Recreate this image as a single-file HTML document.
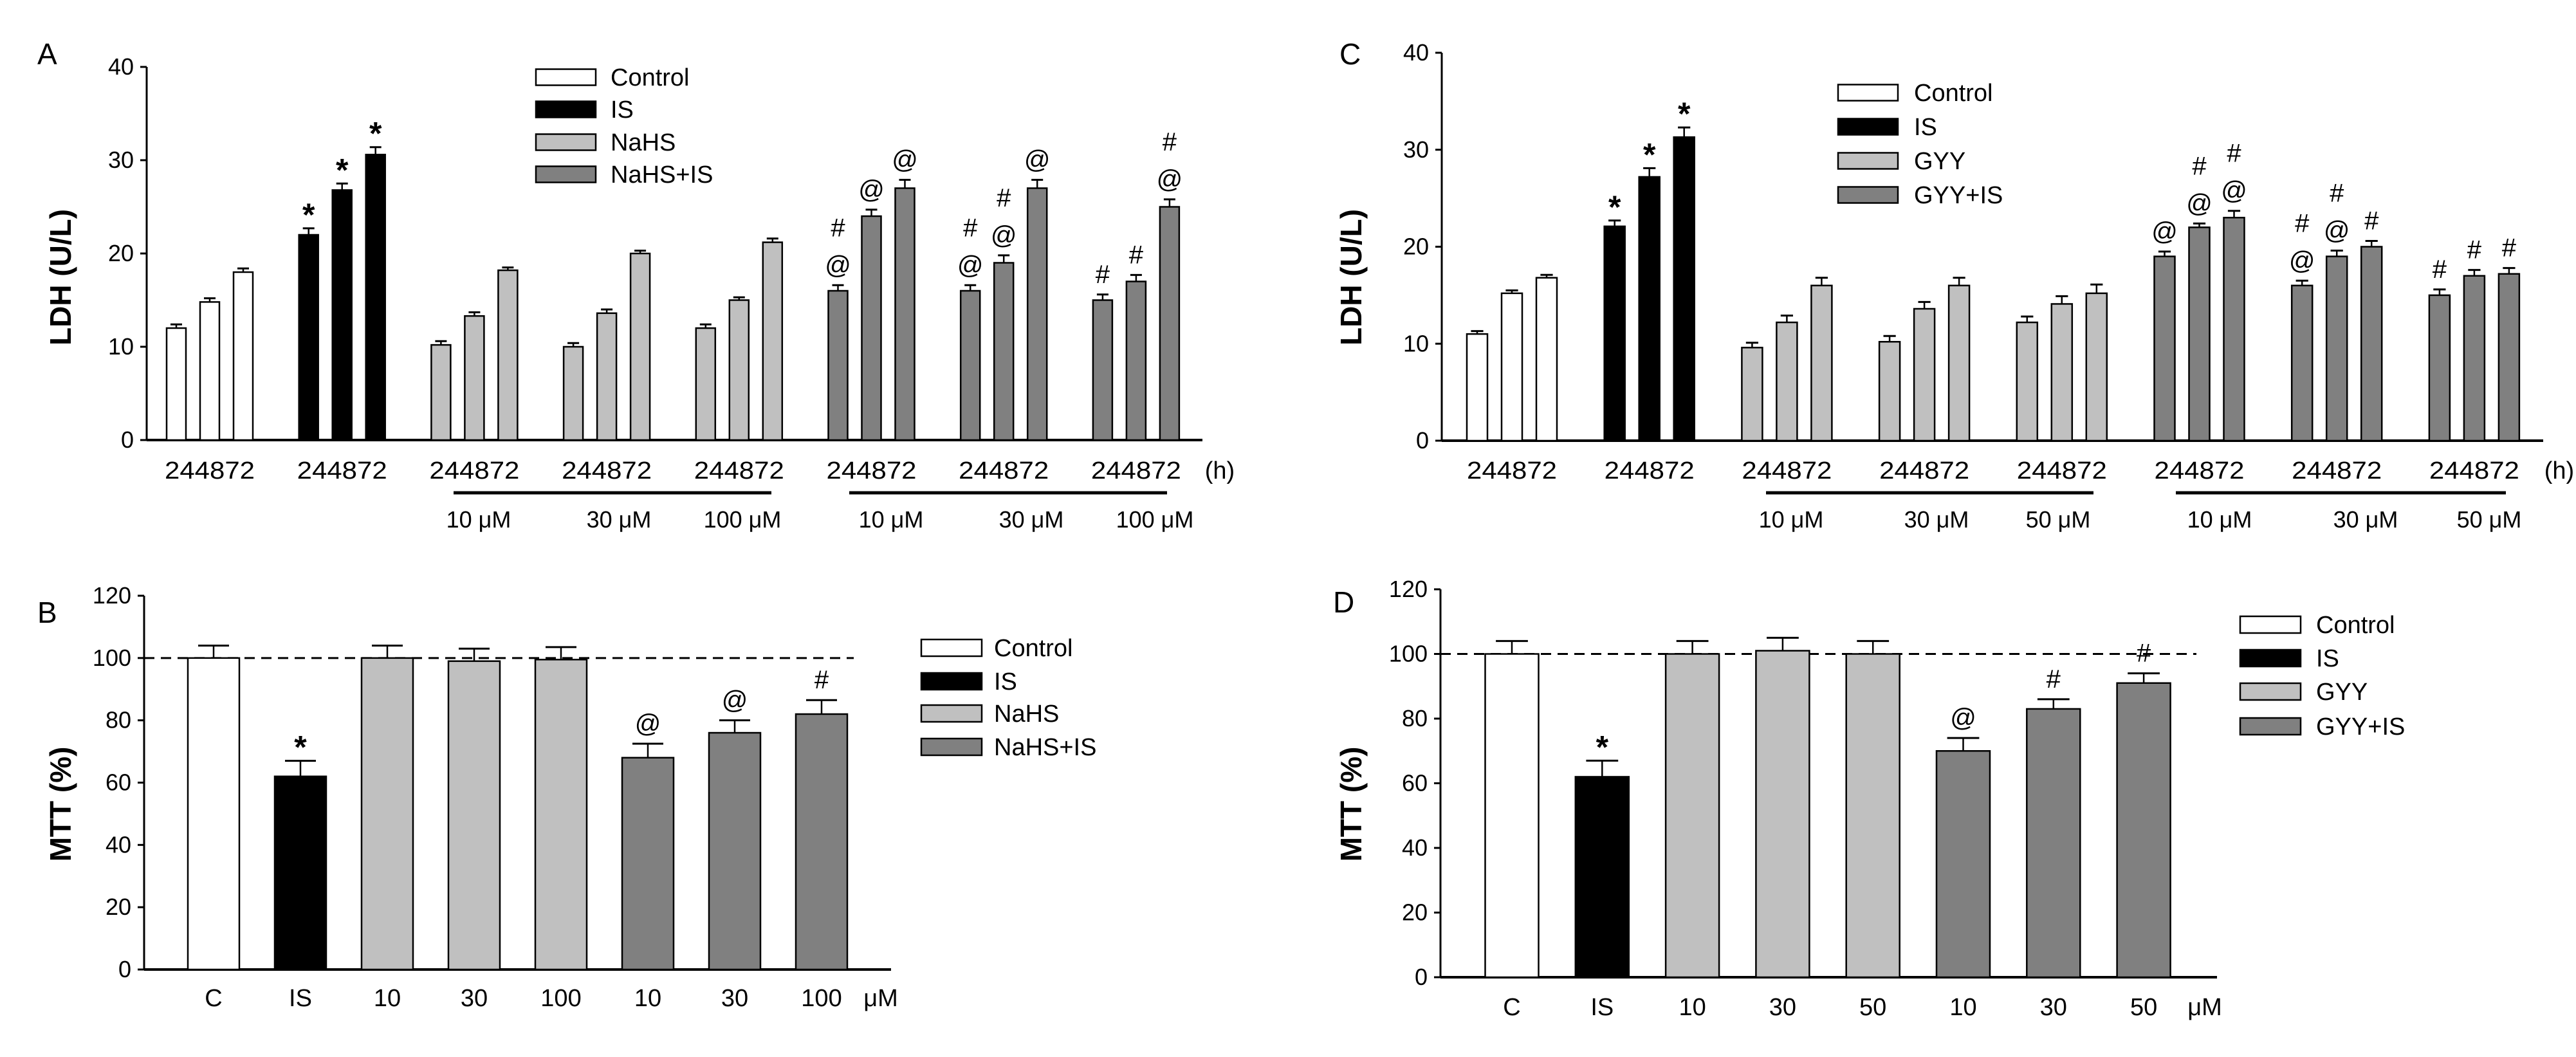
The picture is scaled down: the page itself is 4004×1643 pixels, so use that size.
<!DOCTYPE html>
<html><head><meta charset="utf-8"><style>
html,body{margin:0;padding:0;background:#fff;}
svg{display:block;font-family:"Liberation Sans",Arial,sans-serif;}
</style></head><body>
<svg id="fig" width="4004" height="1643" viewBox="0 0 4004 1643" xmlns="http://www.w3.org/2000/svg"></svg>
<script>
// ---------- DATA ----------
// Panel A (LDH, NaHS)
const ldhA = [[12,14.8,18],[22,26.8,30.6],[10.2,13.3,18.2],[10,13.6,20],[12,15,21.2],[16,24,27],[16,19,27],[15,17,25]];
const ldhAErr = [[0.4,0.4,0.4],[0.7,0.7,0.8],[0.4,0.4,0.3],[0.4,0.4,0.3],[0.4,0.3,0.4],[0.6,0.7,0.9],[0.6,0.8,0.9],[0.6,0.7,0.8]];
const ldhAMarks = [[[],[],[]],[['*'],['*'],['*']],[[],[],[]],[[],[],[]],[[],[],[]],[['@','#'],['@'],['@']],[['@','#'],['@','#'],['@']],[['#'],['#'],['@','#']]];
const concA = ['10 \u03bcM','30 \u03bcM','100 \u03bcM','10 \u03bcM','30 \u03bcM','100 \u03bcM'];
const legendA = ['Control','IS','NaHS','NaHS+IS'];
// Panel C (LDH, GYY)
const ldhC = [[11,15.2,16.8],[22.1,27.2,31.3],[9.6,12.2,16],[10.2,13.6,16],[12.2,14.1,15.2],[19,22,23],[16,19,20],[15,17,17.2]];
const ldhCErr = [[0.3,0.3,0.3],[0.6,0.9,1.0],[0.5,0.7,0.8],[0.6,0.7,0.8],[0.6,0.8,0.9],[0.5,0.4,0.7],[0.5,0.6,0.6],[0.6,0.6,0.6]];
const ldhCMarks = [[[],[],[]],[['*'],['*'],['*']],[[],[],[]],[[],[],[]],[[],[],[]],[['@'],['@','#'],['@','#']],[['@','#'],['@','#'],['#']],[['#'],['#'],['#']]];
const concC = ['10 \u03bcM','30 \u03bcM','50 \u03bcM','10 \u03bcM','30 \u03bcM','50 \u03bcM'];
const legendC = ['Control','IS','GYY','GYY+IS'];
// Panel B (MTT, NaHS)
const mttBCats = ['C','IS','10','30','100','10','30','100'];
const mttB = [100,62,100,99,99.5,68,76,82];
const mttBErr = [4,5,4,4,4,4.5,4,4.5];
const mttBMarks = ['','*','','','','@','@','#'];
// Panel D (MTT, GYY)
const mttDCats = ['C','IS','10','30','50','10','30','50'];
const mttD = [100,62,100,101,100,70,83,91];
const mttDErr = [4,5,4,4,4,4,3,3];
const mttDMarks = ['','*','','','','@','#','#'];
const ldhTicks = [0,10,20,30,40];
const mttTicks = [0,20,40,60,80,100,120];
const groupKinds = [0,1,2,2,2,3,3,3];
const fills = ['#ffffff','#000000','#c0c0c0','#808080'];

// ---------- DRAW ----------
const NS='http://www.w3.org/2000/svg';
const svg=document.getElementById('fig');
function mk(tag,attrs,parent,txt){const e=document.createElementNS(NS,tag);for(const k in attrs)e.setAttribute(k,attrs[k]);if(txt!==undefined)e.textContent=txt;(parent||svg).appendChild(e);return e;}

function axisY(p){const g=mk('g',{});
  
  
  const sy=v=>p.y0-(v-p.vmin)/(p.vmax-p.vmin)*(p.y0-p.ytop);
  mk('line',{x1:p.ax,y1:p.ytop,x2:p.ax,y2:p.y0,stroke:'#000','stroke-width':3},g);
  p.ticks.forEach(t=>{const y=sy(t);
    mk('line',{x1:p.ax-10,y1:y,x2:p.ax,y2:y,stroke:'#000','stroke-width':3},g);
    const tx=mk('text',{x:p.ax-20,y:y+12,'font-size':36,'text-anchor':'end'},g,String(t));
    
    
  });
  mk('line',{x1:p.ax,y1:p.y0,x2:p.axEnd,y2:p.y0,stroke:'#000','stroke-width':4},g);
  const yl=mk('text',{x:0,y:0,'font-size':46,'font-weight':'bold','text-anchor':'middle',transform:`translate(${p.ylx},${p.yly}) rotate(-90)`},svg,p.ylabel);
  
  
  const pl=mk('text',{x:p.lx,y:p.ly,'font-size':46},svg,p.letter);
  
  
  return sy;}

function bar(x,w,v,err,fill,sy,marks,name){
  const top=sy(v),y0=sy(0);
  const r=mk('rect',{x:x-w/2,y:top,width:w,height:y0-top,fill:fill,stroke:'#000','stroke-width':2.5});
  
  
  const et=sy(v+err);
  mk('line',{x1:x,y1:top,x2:x,y2:et,stroke:'#000','stroke-width':2.5});
  mk('line',{x1:x-w*0.3,y1:et,x2:x+w*0.3,y2:et,stroke:'#000','stroke-width':3});
  marks.forEach((m,i)=>{const big=m==='*';
    const t=mk('text',{x:x,y:et-18-i*58+(big?14:0),'font-size':big?50:40,'font-weight':big?'bold':'normal','text-anchor':'middle'},svg,m);
    
    });
}

function legend(lx,rows,labels,tx,bw,bh,id){
  labels.forEach((l,i)=>{
    const r=mk('rect',{x:lx,y:rows[i]-bh/2,width:bw,height:bh,fill:fills[i],stroke:'#000','stroke-width':2.5});
    
    
    const t=mk('text',{x:tx,y:rows[i]+13,'font-size':38},svg,l);
    
    
  });
}

function ldhPanel(p,vals,errs,marks,conc,leg){
  const sy=axisY(p);
  vals.forEach((grp,g)=>grp.forEach((v,i)=>{
    const x=p.x0+g*p.gs+i*p.bs;
    bar(x,p.bw,v,errs[g][i],fills[groupKinds[g]],sy,marks[g][i],p.id+'-bar-g'+g+'-'+i);
  }));
  vals.forEach((grp,g)=>{const t=mk('text',{x:p.x0+g*p.gs+p.bs,y:p.ty,'font-size':38,'text-anchor':'middle',textLength:140,lengthAdjust:'spacingAndGlyphs'},svg,'244872');
    
    });
  const h=mk('text',{x:p.hx,y:p.ty,'font-size':38,'text-anchor':'middle'},svg,'(h)');
  
  
  p.lines.forEach(l=>{const ln=mk('line',{x1:l[0],y1:766,x2:l[1],y2:766,stroke:'#000','stroke-width':5});
    
    });
  conc.forEach((c,i)=>{const t=mk('text',{x:p.cx[i],y:820,'font-size':36,'text-anchor':'middle'},svg,c);
    
    });
  legend(p.legx,p.legRows,leg,p.legTx,93,25,p.id);
}

function mttPanel(p,cats,vals,errs,marks,leg){
  const sy=axisY(p);
  const dl=mk('line',{x1:p.ax,y1:sy(100),x2:p.dashEnd,y2:sy(100),stroke:'#000','stroke-width':3,'stroke-dasharray':'16,10'});
  
  
  vals.forEach((v,i)=>{
    const x=p.x0+i*p.bs;
    bar(x,p.bw,v,errs[i],fills[[0,1,2,2,2,3,3,3][i]],sy,marks[i]?[marks[i]]:[],p.id+'-bar-'+i);
    const t=mk('text',{x:x,y:p.ty,'font-size':38,'text-anchor':'middle'},svg,cats[i]);
    
    
  });
  const u=mk('text',{x:p.ux,y:p.ty,'font-size':38,'text-anchor':'middle'},svg,'\u03bcM');
  
  
  legend(p.legx,p.legRows,leg,p.legTx,94,26,p.id);
}

ldhPanel({id:'panel-a',letter:'A',lx:58,ly:100,ylabel:'LDH (U/L)',ylx:110,yly:431,ax:228,axEnd:1869,ytop:104,y0:684,vmin:0,vmax:40,ticks:ldhTicks,
  x0:274,gs:205.7,bs:52,bw:30,ty:744,hx:1896,lines:[[705,1199],[1320,1814]],cx:[744,962,1154,1385,1603,1795],
  legx:833,legRows:[120,170,221,271],legTx:949},ldhA,ldhAErr,ldhAMarks,concA,legendA);
ldhPanel({id:'panel-c',letter:'C',lx:2082,ly:100,ylabel:'LDH (U/L)',ylx:2116,yly:431,ax:2241,axEnd:3953,ytop:82,y0:685,vmin:0,vmax:40,ticks:ldhTicks,
  x0:2296,gs:213.7,bs:54,bw:32,ty:744,hx:3978,lines:[[2745,3254],[3382,3895]],cx:[2784,3010,3199,3450,3677,3869],
  legx:2857,legRows:[144,197,250,303],legTx:2975},ldhC,ldhCErr,ldhCMarks,concC,legendC);
mttPanel({id:'panel-b',letter:'B',lx:58,ly:968,ylabel:'MTT (%)',ylx:110,yly:1250,ax:224,axEnd:1385,ytop:926,y0:1507,vmin:0,vmax:120,ticks:mttTicks,
  x0:332,bs:135,bw:80,ty:1564,ux:1369,dashEnd:1327,legx:1432,legRows:[1007,1059,1109,1161],legTx:1545},mttBCats,mttB,mttBErr,mttBMarks,legendA);
mttPanel({id:'panel-d',letter:'D',lx:2072,ly:952,ylabel:'MTT (%)',ylx:2116,yly:1250,ax:2239,axEnd:3446,ytop:916,y0:1519,vmin:0,vmax:120,ticks:mttTicks,
  x0:2350,bs:140.3,bw:83,ty:1578,ux:3427,dashEnd:3414,legx:3482,legRows:[971,1023,1075,1129],legTx:3600},mttDCats,mttD,mttDErr,mttDMarks,legendC);
</script>
</body></html>
